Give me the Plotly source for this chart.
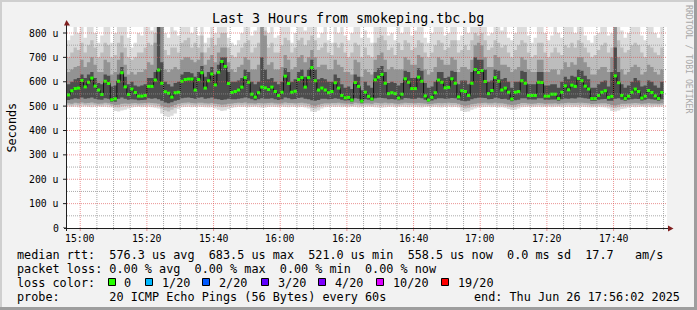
import plotly.graph_objects as go
from datetime import datetime, timedelta

# ---------------- data (values in microseconds) ----------------
median = [
    546, 563, 572, 574, 605, 579, 598, 615, 582, 566,
    548, 602, 593, 526, 530, 602, 637, 579, 548, 570,
    556, 541, 541, 544, 581, 581, 607, 648, 594, 559,
    553, 537, 555, 557, 602, 609, 611, 611, 566, 609,
    637, 574, 604, 632, 587, 639, 683, 663, 593, 556,
    560, 566, 578, 617, 598, 549, 537, 555, 578, 575,
    568, 578, 560, 544, 557, 623, 593, 557, 561, 609,
    617, 578, 617, 658, 604, 566, 574, 566, 555, 560,
    596, 574, 544, 534, 536, 525, 597, 581, 521, 557,
    540, 529, 608, 619, 630, 594, 551, 555, 551, 533,
    549, 612, 598, 572, 572, 619, 602, 542, 525, 536,
    555, 607, 598, 575, 577, 612, 594, 538, 563, 560,
    544, 594, 650, 638, 646, 601, 551, 564, 617, 602,
    566, 574, 557, 529, 557, 560, 604, 594, 544, 544,
    544, 598, 597, 541, 541, 549, 549, 531, 557, 583,
    567, 586, 581, 613, 604, 582, 570, 531, 531, 544,
    557, 563, 536, 540, 624, 596, 544, 531, 541, 557,
    570, 560, 533, 541, 564, 556, 542, 531, 556,
]

smoke_max = [
    770, 790, 825, 800, 825, 780, 825, 825, 800, 760,
    790, 825, 825, 760, 800, 825, 825, 825, 780, 740,
    760, 800, 790, 825, 825, 810, 825, 825, 825, 800,
    780, 825, 810, 790, 825, 825, 825, 800, 825, 790,
    825, 760, 780, 825, 800, 825, 825, 825, 780, 760,
    750, 770, 800, 825, 825, 790, 810, 825, 825, 825,
    800, 825, 780, 790, 825, 825, 825, 760, 800, 825,
    825, 810, 825, 825, 825, 780, 800, 825, 770, 760,
    825, 800, 825, 790, 770, 800, 825, 825, 780, 810,
    780, 760, 825, 825, 825, 825, 790, 800, 770, 825,
    800, 825, 825, 790, 810, 825, 825, 780, 760, 800,
    825, 825, 825, 790, 800, 825, 825, 770, 790, 825,
    800, 825, 825, 825, 825, 825, 790, 800, 825, 825,
    810, 825, 780, 770, 800, 825, 825, 825, 790, 760,
    780, 825, 825, 800, 770, 790, 825, 800, 780, 825,
    825, 825, 800, 825, 825, 790, 770, 760, 790, 800,
    825, 825, 790, 800, 825, 825, 810, 780, 800, 825,
    825, 825, 790, 770, 825, 825, 800, 780, 825,
]

smoke_hi2 = [
    700, 720, 740, 730, 760, 720, 750, 770, 740, 700,
    720, 760, 750, 700, 710, 760, 790, 740, 700, 690,
    700, 720, 720, 740, 760, 750, 800, 825, 825, 730,
    710, 740, 740, 720, 760, 770, 780, 740, 760, 740,
    790, 720, 740, 780, 750, 780, 800, 800, 740, 710,
    700, 720, 740, 760, 770, 720, 740, 760, 825, 810,
    740, 760, 720, 720, 750, 780, 770, 720, 740, 770,
    780, 750, 770, 790, 770, 730, 740, 760, 720, 710,
    760, 740, 760, 720, 700, 720, 760, 750, 700, 740,
    710, 700, 760, 780, 790, 770, 730, 740, 710, 760,
    730, 770, 760, 730, 740, 770, 760, 720, 700, 720,
    750, 770, 760, 730, 740, 770, 770, 720, 730, 750,
    730, 770, 800, 790, 800, 770, 730, 740, 770, 760,
    740, 750, 720, 700, 730, 750, 770, 760, 720, 700,
    710, 760, 760, 720, 700, 720, 740, 720, 710, 750,
    740, 760, 740, 770, 760, 740, 720, 700, 710, 730,
    750, 760, 720, 740, 825, 770, 740, 720, 730, 750,
    760, 750, 720, 700, 750, 740, 720, 710, 740,
]

smoke_hi3 = [
    640, 650, 660, 665, 690, 660, 680, 700, 670, 640,
    640, 690, 680, 630, 640, 690, 720, 670, 630, 640,
    630, 640, 640, 650, 680, 670, 760, 825, 825, 650,
    640, 650, 660, 650, 690, 700, 700, 690, 680, 690,
    720, 670, 690, 710, 680, 720, 740, 740, 680, 650,
    640, 660, 670, 700, 690, 650, 650, 670, 825, 790,
    670, 680, 650, 650, 660, 710, 690, 650, 660, 700,
    710, 680, 700, 730, 700, 660, 670, 670, 650, 650,
    690, 670, 660, 640, 640, 630, 690, 680, 620, 650,
    640, 630, 690, 710, 720, 690, 650, 660, 650, 650,
    650, 700, 690, 670, 670, 710, 700, 650, 630, 640,
    660, 700, 690, 670, 670, 700, 690, 640, 660, 660,
    650, 690, 750, 760, 750, 700, 660, 660, 710, 700,
    670, 670, 660, 640, 650, 660, 700, 690, 650, 640,
    640, 690, 690, 640, 640, 650, 650, 630, 650, 680,
    660, 680, 670, 700, 700, 680, 660, 630, 630, 650,
    660, 660, 640, 700, 825, 700, 650, 630, 640, 660,
    670, 660, 630, 640, 670, 660, 640, 630, 650,
]

smoke_hi4 = [
    590, 600, 610, 615, 630, 615, 630, 640, 615, 595,
    590, 630, 625, 580, 585, 630, 660, 620, 590, 600,
    585, 580, 585, 590, 615, 615, 640, 825, 680, 600,
    590, 580, 595, 600, 630, 640, 640, 635, 620, 640,
    665, 620, 640, 660, 630, 670, 700, 700, 640, 600,
    600, 605, 615, 650, 640, 600, 590, 600, 700, 650,
    610, 615, 600, 590, 600, 655, 640, 600, 610, 640,
    650, 620, 650, 690, 650, 610, 615, 610, 600, 600,
    630, 615, 590, 575, 580, 570, 630, 620, 565, 600,
    585, 575, 640, 655, 665, 640, 595, 600, 595, 585,
    595, 645, 640, 615, 615, 655, 645, 595, 575, 580,
    600, 640, 640, 615, 620, 645, 640, 590, 605, 605,
    590, 640, 700, 690, 690, 650, 600, 605, 650, 645,
    610, 615, 600, 575, 600, 600, 645, 640, 590, 590,
    590, 640, 640, 585, 585, 590, 590, 575, 600, 620,
    610, 625, 620, 650, 645, 625, 610, 575, 575, 590,
    600, 605, 580, 640, 740, 640, 590, 575, 585, 600,
    615, 605, 580, 585, 605, 600, 585, 575, 600,
]

smoke_min = [
    498, 496, 497, 495, 497, 498, 496, 495, 497, 498,
    496, 497, 495, 494, 480, 478, 482, 485, 490, 494,
    496, 497, 495, 496, 497, 495, 493, 490, 470, 458,
    455, 460, 470, 488, 495, 496, 497, 495, 496, 497,
    496, 495, 494, 495, 490, 485, 480, 482, 488, 492,
    495, 497, 496, 497, 495, 496, 497, 495, 493, 494,
    496, 497, 496, 495, 497, 496, 495, 497, 496, 495,
    496, 494, 490, 478, 476, 482, 490, 495, 496, 497,
    496, 497, 495, 496, 495, 497, 496, 494, 495, 496,
    497, 496, 495, 494, 493, 495, 496, 497, 495, 496,
    497, 496, 495, 497, 496, 495, 494, 496, 497, 495,
    496, 495, 494, 496, 497, 495, 496, 494, 480, 476,
    478, 485, 490, 494, 495, 496, 497, 495, 496, 494,
    495, 493, 488, 484, 485, 490, 495, 496, 497, 495,
    496, 497, 495, 496, 497, 495, 496, 497, 495, 496,
    497, 495, 496, 495, 497, 496, 495, 494, 495, 496,
    495, 494, 490, 480, 478, 482, 488, 490, 494, 496,
    495, 496, 497, 495, 496, 494, 496, 495, 497,
]

smoke_lo2 = [
    505, 503, 506, 504, 507, 505, 504, 506, 505, 503,
    504, 506, 505, 500, 495, 494, 498, 500, 502, 504,
    505, 503, 504, 505, 506, 505, 503, 500, 490, 482,
    478, 485, 492, 500, 505, 506, 507, 505, 504, 506,
    505, 504, 503, 505, 500, 498, 495, 496, 500, 503,
    505, 506, 505, 506, 504, 505, 504, 505, 503, 504,
    505, 506, 505, 504, 505, 506, 505, 506, 505, 504,
    505, 503, 500, 492, 490, 495, 500, 504, 505, 506,
    505, 506, 504, 503, 504, 502, 505, 504, 502, 505,
    504, 503, 505, 504, 503, 505, 504, 506, 504, 503,
    505, 506, 505, 506, 505, 504, 503, 504, 502, 503,
    505, 504, 503, 505, 506, 504, 505, 503, 495, 490,
    492, 498, 500, 503, 505, 506, 505, 504, 505, 503,
    504, 502, 498, 495, 496, 500, 504, 505, 504, 503,
    504, 505, 504, 503, 504, 503, 504, 503, 504, 505,
    506, 505, 504, 505, 506, 505, 504, 502, 503, 504,
    504, 503, 500, 494, 492, 495, 500, 502, 503, 505,
    504, 505, 503, 504, 505, 503, 504, 503, 505,
]

smoke_lo3 = [
    512, 510, 514, 512, 515, 512, 513, 515, 512, 510,
    511, 514, 512, 508, 505, 506, 510, 511, 510, 512,
    513, 511, 512, 513, 514, 513, 512, 510, 502, 496,
    494, 498, 505, 510, 513, 514, 515, 513, 512, 514,
    514, 512, 511, 513, 510, 508, 506, 507, 510, 511,
    513, 514, 513, 515, 512, 512, 511, 513, 512, 512,
    513, 514, 512, 511, 512, 515, 513, 513, 512, 513,
    514, 512, 510, 504, 502, 506, 510, 512, 512, 513,
    513, 514, 512, 511, 511, 509, 514, 512, 509, 512,
    512, 510, 514, 513, 512, 514, 512, 513, 511, 510,
    512, 514, 513, 513, 512, 513, 512, 511, 509, 510,
    512, 513, 512, 513, 514, 513, 513, 510, 505, 502,
    504, 508, 510, 512, 513, 514, 512, 512, 514, 512,
    512, 510, 507, 505, 506, 509, 513, 513, 511, 510,
    511, 513, 512, 510, 511, 511, 512, 510, 512, 513,
    514, 513, 513, 514, 514, 513, 512, 509, 510, 511,
    512, 512, 509, 505, 503, 506, 510, 510, 511, 512,
    513, 512, 510, 511, 513, 511, 511, 510, 512,
]

smoke_lo4 = [
    525, 528, 532, 530, 535, 530, 532, 535, 530, 527,
    526, 532, 530, 518, 518, 530, 535, 530, 526, 528,
    527, 524, 525, 526, 532, 530, 532, 528, 522, 515,
    512, 516, 522, 525, 532, 534, 535, 533, 530, 534,
    536, 530, 532, 535, 530, 528, 525, 527, 530, 528,
    528, 530, 532, 535, 532, 528, 524, 528, 532, 530,
    530, 532, 528, 525, 528, 535, 532, 528, 529, 533,
    535, 530, 528, 524, 522, 525, 530, 530, 528, 529,
    532, 530, 526, 523, 524, 518, 532, 530, 515, 528,
    526, 522, 532, 534, 533, 532, 528, 529, 527, 524,
    527, 533, 532, 530, 530, 534, 532, 526, 518, 523,
    528, 532, 532, 530, 531, 533, 532, 526, 522, 520,
    522, 528, 532, 534, 534, 533, 528, 529, 534, 532,
    529, 530, 526, 520, 524, 526, 532, 532, 527, 527,
    527, 532, 532, 526, 526, 527, 527, 522, 528, 531,
    530, 532, 531, 535, 534, 532, 530, 522, 522, 526,
    528, 529, 522, 522, 530, 532, 526, 522, 526, 528,
    530, 529, 523, 526, 530, 528, 526, 522, 528,
]

y_tick_vals = [0, 100, 200, 300, 400, 500, 600, 700, 800]
y_tick_text = ["0", "100 u", "200 u", "300 u", "400 u", "500 u", "600 u", "700 u", "800 u"]
x_tick_text = ["15:00", "15:20", "15:40", "16:00", "16:20", "16:40", "17:00", "17:20", "17:40"]

title_text = "Last 3 Hours from smokeping.tbc.bg"
legend_lines = [
    "median rtt:  576.3 us avg  683.5 us max  521.0 us min  558.5 us now  0.0 ms sd  17.7   am/s",
    "packet loss: 0.00 % avg  0.00 % max  0.00 % min  0.00 % now",
    "loss color:",
    "probe:       20 ICMP Echo Pings (56 Bytes) every 60s",
]
end_text = "end: Thu Jun 26 17:56:02 2025"
loss_labels = ["0", "1/20", "2/20", "3/20", "4/20", "10/20", "19/20"]
loss_colors = ["#26ff00", "#00b8ff", "#0059ff", "#5e00ff", "#7e00ff", "#dd00ff", "#ff0000"]

# ---------------- layout geometry ----------------
W, H = 697, 310
X0, X1, Y0, Y1 = 67, 667, 27, 228          # plot area in pixels
Y_TOP = 824.6
T_START = datetime(2025, 6, 26, 14, 56, 2)
T_END = datetime(2025, 6, 26, 17, 56, 2)
STEP0 = datetime(2025, 6, 26, 14, 56, 0)
FONT = "DejaVu Sans Mono"


def fx(p):
    return p / W


def fy(p):
    return 1 - p / H


def ts(t):
    return t.strftime("%Y-%m-%d %H:%M:%S")


def sp(s):
    return s.replace(" ", "\u00a0")


n = len(median)
xs = [ts(STEP0 + timedelta(minutes=i)) for i in range(n + 1)]


def stepy(v):
    return list(v) + [v[-1]]


fig = go.Figure()

bands = [
    (smoke_min, smoke_max, "#dcdcdc"),
    (smoke_lo2, smoke_hi2, "#bdbdbd"),
    (smoke_lo3, smoke_hi3, "#939393"),
    (smoke_lo4, smoke_hi4, "#4d4d4d"),
]
for lo, hi, col in bands:
    fig.add_trace(go.Scatter(x=xs, y=stepy(lo), mode="lines",
                             line=dict(width=0, shape="hv"),
                             hoverinfo="skip", showlegend=False))
    fig.add_trace(go.Scatter(x=xs, y=stepy(hi), mode="lines",
                             line=dict(width=0, shape="hv"),
                             fill="tonexty", fillcolor=col,
                             hoverinfo="skip", showlegend=False))

# median: thin dark step line + green (0 loss) segments
fig.add_trace(go.Scatter(x=xs, y=stepy(median), mode="lines",
                         line=dict(width=1, color="#111111", shape="hv"),
                         hoverinfo="skip", showlegend=False))
gx, gy = [], []
for i, m in enumerate(median):
    gx += [xs[i], xs[i + 1], None]
    gy += [m, m, None]
fig.add_trace(go.Scatter(x=gx, y=gy, mode="lines",
                         line=dict(width=3, color=loss_colors[0]),
                         hoverinfo="skip", showlegend=False))

shapes = []
GRID = "rgba(143,143,143,0.75)"
MGRID = "rgba(222,79,79,0.6)"
DOT = "1px,1px"

# vertical grid every 5 min, major every 20 min
t = datetime(2025, 6, 26, 15, 0, 0)
while t < T_END:
    major = (t.minute % 20 == 0)
    shapes.append(dict(type="line", xref="x", yref="y", x0=ts(t), x1=ts(t), y0=0, y1=Y_TOP,
                       line=dict(color=MGRID if major else GRID, width=1, dash=DOT), layer="above"))
    shapes.append(dict(type="line", xref="x", yref="paper", x0=ts(t), x1=ts(t),
                       y0=fy(Y1), y1=fy(Y1 + (3 if major else 2)),
                       line=dict(color=MGRID if major else GRID, width=1), layer="above"))
    t += timedelta(minutes=5)

# horizontal grid every 50, major every 100
for v in range(50, 801, 50):
    major = (v % 100 == 0)
    shapes.append(dict(type="line", xref="paper", yref="y", x0=fx(X0), x1=fx(X1), y0=v, y1=v,
                       line=dict(color=MGRID if major else GRID, width=1, dash=DOT), layer="above"))
for v in y_tick_vals:
    shapes.append(dict(type="line", xref="paper", yref="y", x0=fx(X0 - 4), x1=fx(X0), y0=v, y1=v,
                       line=dict(color="#1f1f1f", width=1), layer="above"))

# axes
shapes.append(dict(type="line", xref="paper", yref="paper", x0=fx(X0 - 3), x1=fx(671), y0=fy(Y1 + 0.5), y1=fy(Y1 + 0.5),
                   line=dict(color="#1f1f1f", width=1), layer="above"))
shapes.append(dict(type="line", xref="paper", yref="paper", x0=fx(X0 - 0.5), x1=fx(X0 - 0.5), y0=fy(Y1 + 3), y1=fy(23),
                   line=dict(color="#1f1f1f", width=1), layer="above"))
# arrows
shapes.append(dict(type="path", xref="paper", yref="paper",
                   path=f"M {fx(64)},{fy(25.5)} L {fx(70)},{fy(25.5)} L {fx(66.5)},{fy(20)} Z",
                   fillcolor="#801f1f", line=dict(width=0), layer="above"))
shapes.append(dict(type="path", xref="paper", yref="paper",
                   path=f"M {fx(668)},{fy(225.5)} L {fx(668)},{fy(231.5)} L {fx(673.5)},{fy(228.5)} Z",
                   fillcolor="#801f1f", line=dict(width=0), layer="above"))

# frame (3D border)
shapes += [
    dict(type="rect", xref="paper", yref="paper", x0=0, x1=1, y0=fy(2), y1=1,
         fillcolor="#cfcfcf", line=dict(width=0), layer="above"),
    dict(type="rect", xref="paper", yref="paper", x0=0, x1=fx(2), y0=0, y1=1,
         fillcolor="#cfcfcf", line=dict(width=0), layer="above"),
    dict(type="rect", xref="paper", yref="paper", x0=0, x1=1, y0=0, y1=fy(H - 3),
         fillcolor="#9e9e9e", line=dict(width=0), layer="above"),
    dict(type="rect", xref="paper", yref="paper", x0=fx(W - 3), x1=1, y0=0, y1=1,
         fillcolor="#9e9e9e", line=dict(width=0), layer="above"),
]

# loss colour squares
sq_x = [109, 146, 203, 262, 319, 377, 442]
lab_x = [123, 161, 218, 277, 334, 392, 457]
for xpx, col in zip(sq_x, loss_colors):
    shapes.append(dict(type="rect", xref="paper", yref="paper",
                       x0=fx(xpx - 0.5), x1=fx(xpx + 6.5), y0=fy(285.5), y1=fy(278.5),
                       fillcolor=col, line=dict(color="#000000", width=1), layer="above"))

ann = []
fnt = lambda s, c="#000000": dict(family=FONT, size=s, color=c)
ann.append(dict(x=fx(348), y=fy(19), xref="paper", yref="paper", text=sp(title_text),
                showarrow=False, xanchor="center", yanchor="middle", font=fnt(13.3)))
for v, tx in zip(y_tick_vals, y_tick_text):
    ann.append(dict(x=fx(60.5), y=v, xref="paper", yref="y", text=sp(tx), showarrow=False,
                    xanchor="right", yanchor="middle", font=fnt(9.8)))
for i, tx in enumerate(x_tick_text):
    tt = datetime(2025, 6, 26, 15, 0) + timedelta(minutes=20 * i)
    ann.append(dict(x=ts(tt), y=fy(238), xref="x", yref="paper", text=tx, showarrow=False,
                    xanchor="center", yanchor="middle", font=fnt(9.8)))
ann.append(dict(x=fx(11), y=fy(127.5), xref="paper", yref="paper", text="Seconds", textangle=-90,
                showarrow=False, xanchor="center", yanchor="middle", font=fnt(11.8)))
ann.append(dict(x=fx(689), y=fy(59), xref="paper", yref="paper", text=sp("RRDTOOL / TOBI OETIKER"),
                textangle=90, showarrow=False, xanchor="center", yanchor="middle",
                font=dict(family=FONT, size=8.2, color="#a8a8a8")))
for k, line in enumerate(legend_lines):
    ann.append(dict(x=fx(15), y=fy(254.5 + 14 * k), xref="paper", yref="paper", text=sp(line),
                    showarrow=False, xanchor="left", yanchor="middle", font=fnt(11.8)))
for xpx, lab in zip(lab_x, loss_labels):
    ann.append(dict(x=fx(xpx - 1), y=fy(282.5), xref="paper", yref="paper", text=lab,
                    showarrow=False, xanchor="left", yanchor="middle", font=fnt(11.8)))
ann.append(dict(x=fx(682), y=fy(296.5), xref="paper", yref="paper", text=sp(end_text),
                showarrow=False, xanchor="right", yanchor="middle", font=fnt(11.8)))

fig.update_layout(
    width=W, height=H, autosize=False,
    margin=dict(l=0, r=0, t=0, b=0, pad=0),
    paper_bgcolor="#f2f2f2", plot_bgcolor="#ffffff",
    showlegend=False,
    xaxis=dict(type="date", range=[ts(T_START), ts(T_END)], domain=[fx(X0), fx(X1)],
               showgrid=False, zeroline=False, showticklabels=False, ticks="", fixedrange=True),
    yaxis=dict(range=[0, Y_TOP], domain=[fy(Y1), fy(Y0)],
               showgrid=False, zeroline=False, showticklabels=False, ticks="", fixedrange=True),
    shapes=shapes, annotations=ann,
)

fig.write_html("out.html", config={"displayModeBar": False, "staticPlot": True})
